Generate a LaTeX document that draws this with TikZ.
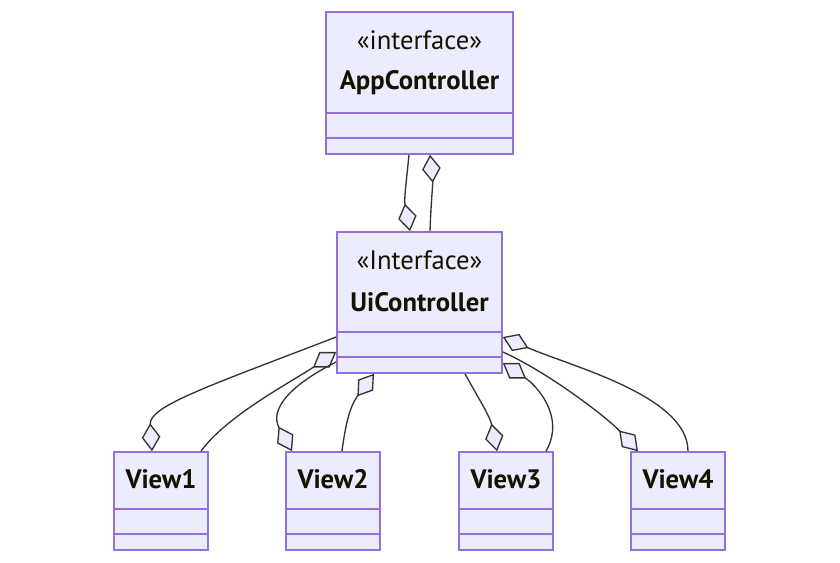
\documentclass[tikz,border=0pt]{standalone}
\usepackage{fontspec}
\setmainfont{PT Sans}
\usetikzlibrary{arrows.meta,positioning}
\definecolor{classfill}{HTML}{ECECFF}
\definecolor{classline}{HTML}{9370DB}
\definecolor{linkline}{HTML}{333333}
\definecolor{labeltext}{HTML}{131300}

\begin{document}
\begin{tikzpicture}[x=0.75pt, y=-0.75pt,
classbox/.style={rectangle, draw=classline, fill=classfill, line width=1.2pt, inner sep=0pt},
stereo/.style={font=\fontsize{20}{22}\selectfont, text=labeltext, inner sep=0pt},
classname/.style={font=\bfseries\fontsize{20}{22}\selectfont, text=labeltext, inner sep=0pt},
divider/.style={draw=classline, line width=1.2pt},
aggr/.style={draw=linkline, line width=1pt, -{Diamond[length=21pt, width=14pt, fill=classfill, line width=1pt]}}
]
\useasboundingbox (0,0) rectangle (840,563);

% Interfaces
\node[classbox, minimum width=140.25pt, minimum height=106.5pt] (app) at (419.5,83) {};
\node[stereo] (app_stereo) at (419.5,40) {«interface»};
\node[classname] (app_name) at (419.5,83) {AppController};
\draw[divider] ([shift={(0,-42)}]app.south west) -- ([shift={(0,-42)}]app.south east);
\draw[divider] ([shift={(0,-17)}]app.south west) -- ([shift={(0,-17)}]app.south east);

\node[classbox, minimum width=123.75pt, minimum height=105.75pt] (ui) at (419.5,302.5) {};
\node[stereo] (ui_stereo) at (419.5,260) {«Interface»};
\node[classname] (ui_name) at (419.5,302) {UiController};
\draw[divider] ([shift={(0,-42)}]ui.south west) -- ([shift={(0,-42)}]ui.south east);
\draw[divider] ([shift={(0,-17)}]ui.south west) -- ([shift={(0,-17)}]ui.south east);

% Views
\foreach \i/\x in {1/161, 2/333, 3/506, 4/678} {
  \node[classbox, minimum width=70.5pt, minimum height=73.5pt] (view\i) at (\x,501) {};
  \node[classname] (view\i_name) at (\x,479) {View\i};
  \draw[divider] ([shift={(0,-42)}]view\i.south west) -- ([shift={(0,-42)}]view\i.south east);
  \draw[divider] ([shift={(0,-17)}]view\i.south west) -- ([shift={(0,-17)}]view\i.south east);
}

% Connections
\draw[aggr] ([shift={(-10.5,0)}]app.south) .. controls +(-3,30) and +(-6,-32) .. ([shift={(-9.5,0)}]ui.north);
\draw[aggr] ([shift={(10.5,0)}]ui.north) .. controls +(1,-30) and +(3,30) .. ([shift={(10.5,0)}]app.south);

\draw[aggr] ([shift={(0,34.5)}]ui.west) .. controls +(-130,50) and +(-3,-45) .. ([shift={(-9,0)}]view1.north);
\draw[aggr] ([shift={(40,0)}]view1.north) .. controls +(25,-35) and +(-45,30) .. ([shift={(0,49.5)}]ui.west);

\draw[aggr] ([shift={(0,59.5)}]ui.west) .. controls +(-50,25) and +(-22,-40) .. ([shift={(-41,0)}]view2.north);
\draw[aggr] ([shift={(9,0)}]view2.north) .. controls +(5,-40) and +(-20,27) .. ([shift={(-45.5,0)}]ui.south);

\draw[aggr] ([shift={(45.5,0)}]ui.south) .. controls +(12,22) and +(-7,-35) .. ([shift={(-9,0)}]view3.north);
\draw[aggr] ([shift={(40,0)}]view3.north) .. controls +(20,-35) and +(33,22) .. ([shift={(0,60.5)}]ui.east);

\draw[aggr] ([shift={(0,49.5)}]ui.east) .. controls +(45,20) and +(-30,-33) .. ([shift={(-40,0)}]view4.north);
\draw[aggr] ([shift={(10,0)}]view4.north) .. controls +(0,-55) and +(70,30) .. ([shift={(0,34.5)}]ui.east);

\end{tikzpicture}
\end{document}
